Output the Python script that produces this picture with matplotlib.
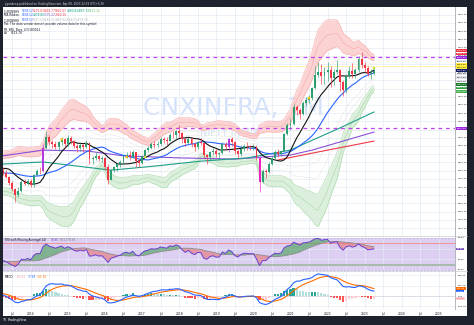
import numpy as np
import pandas as pd
import matplotlib
matplotlib.use("Agg")
import matplotlib.pyplot as plt
from matplotlib.patches import Rectangle
import matplotlib.transforms as mtransforms

# monthly bars, Apr 2013 .. Apr 2023 (month index 0 = Jan 2014)
first_month = -9
opens = [2600, 2540, 2450, 2300, 2150, 2000, 2100, 2330, 2280,
         2350, 2250, 2490, 2600, 2580, 3150, 3420, 3300, 3240, 3180, 3290, 3370,
         3250, 3400, 3330, 3200, 3150, 3230, 3180, 3280, 2880, 2900, 2960, 2880,
         2900, 2700, 2380, 2620, 2680, 2750, 2800, 2950, 2980, 2930, 3050, 2840,
         2780, 2960, 3100, 3150, 3250, 3230, 3260, 3380, 3350, 3330, 3480, 3460,
         3560, 3520, 3380, 3270, 3380, 3250, 3180, 3290, 3280, 2980, 2920, 3050,
         3080, 3000, 3020, 3250, 3180, 3380, 3300, 3080, 3000, 3130, 3200, 3190,
         3170, 3180, 2900, 2310, 2580, 2570, 2750, 2900, 3050, 3000, 3080, 3500,
         3700, 3740, 4150, 4080, 3990, 4260, 4310, 4380, 4620, 4930, 5000, 4900,
         5000, 5050, 4850, 5000, 5050, 4750, 4560, 4900, 5040, 4950, 5050, 5330,
         5180, 5100, 4950, 4980]
highs = [2680, 2620, 2480, 2340, 2180, 2190, 2360, 2400, 2400,
         2400, 2510, 2640, 2700, 3250, 3560, 3460, 3350, 3330, 3320, 3420, 3400,
         3480, 3450, 3350, 3260, 3280, 3260, 3350, 3300, 2950, 3060, 2990, 2960,
         2920, 2760, 2650, 2720, 2780, 2860, 2980, 3050, 3080, 3110, 3060, 2880,
         2990, 3130, 3200, 3290, 3310, 3330, 3420, 3430, 3420, 3520, 3560, 3590,
         3700, 3530, 3420, 3420, 3420, 3290, 3320, 3400, 3300, 3000, 3090, 3160,
         3120, 3060, 3290, 3300, 3400, 3420, 3320, 3110, 3220, 3260, 3290, 3230,
         3260, 3230, 2950, 2640, 2650, 2820, 2960, 3100, 3120, 3110, 3520, 3750,
         3890, 4230, 4200, 4120, 4300, 4400, 4450, 4650, 5150, 5250, 5200, 5120,
         5250, 5150, 5080, 5300, 5080, 4800, 4950, 5150, 5220, 5100, 5400, 5490,
         5250, 5150, 5080, 5080]
lows = [2500, 2420, 2250, 2100, 1840, 1950, 2070, 2250, 2260,
        2200, 2200, 2460, 2520, 2560, 3120, 3220, 3160, 3120, 3080, 3230, 3170,
        3200, 3240, 3150, 3050, 3080, 3050, 3150, 2750, 2750, 2860, 2830, 2820,
        2620, 2280, 2360, 2560, 2600, 2700, 2770, 2900, 2860, 2900, 2700, 2700,
        2760, 2930, 3050, 3120, 3150, 3180, 3230, 3280, 3230, 3310, 3400, 3400,
        3420, 3280, 3200, 3240, 3180, 3080, 3120, 3220, 2900, 2760, 2880, 2990,
        2940, 2880, 3000, 3130, 3050, 3200, 3010, 2900, 2950, 3080, 3100, 3100,
        3100, 2860, 2080, 2300, 2420, 2550, 2740, 2880, 2930, 2960, 3050, 3480,
        3600, 3700, 3950, 3850, 3960, 4180, 4240, 4330, 4600, 4880, 4700, 4720,
        4780, 4650, 4680, 4950, 4550, 4420, 4500, 4860, 4870, 4850, 5000, 5100,
        5000, 4900, 4830, 4930]
closes = [2540, 2450, 2300, 2150, 2000, 2100, 2330, 2280, 2350,
          2250, 2490, 2600, 2580, 3150, 3420, 3300, 3240, 3180, 3290, 3370, 3250,
          3400, 3330, 3200, 3150, 3230, 3180, 3280, 2880, 2900, 2960, 2880, 2900,
          2700, 2380, 2620, 2680, 2750, 2800, 2950, 2980, 2930, 3050, 2840, 2780,
          2960, 3100, 3150, 3250, 3230, 3260, 3380, 3350, 3330, 3480, 3460, 3560,
          3520, 3380, 3270, 3380, 3250, 3180, 3290, 3280, 2980, 2920, 3050, 3080,
          3000, 3020, 3250, 3180, 3380, 3300, 3080, 3000, 3130, 3200, 3190, 3170,
          3180, 2900, 2310, 2580, 2570, 2750, 2900, 3050, 3000, 3080, 3500, 3700,
          3740, 4150, 4080, 3990, 4260, 4310, 4380, 4620, 4930, 5000, 4900, 5000,
          5050, 4850, 5000, 5050, 4750, 4560, 4900, 5040, 4950, 5050, 5330, 5180,
          5100, 4950, 4980, 5040]
# closes left of the visible window (Sep 2011 .. Mar 2013), only used to warm up the indicators
history_closes = [2500, 2400, 2250, 2150, 2450, 2650, 2600, 2550, 2400, 2450,
                  2400, 2500, 2750, 2800, 2700, 2850, 2800, 2650, 2500]

# highlighted bars (MR bars) and their colours
special_months = [4, 64, 74]
special_colors = ['#b53be0', '#b53be0', '#f020c0']

# signal dots
dot_months = [10, 31, 37, 90, 111]
dot_prices = [3360, 2930, 2930, 4370, 5100]
dot_colors = ['#f7c21b', '#f7c21b', '#c9e234', '#f7c21b', '#c9e234']

# long moving averages
sma50_m = [-9, 4, 26, 40, 55, 70, 84, 91, 100, 111]
sma50_v = [2760, 2810, 2610, 2710, 2830, 2910, 3100, 3340, 3640, 4030]
sma100_m = [-9, 4, 18, 30, 48, 66, 84, 91, 101, 111]
sma100_v = [2960, 3100, 3080, 2960, 2910, 2880, 2980, 3100, 3320, 3540]
sma200_m = [80, 88, 96, 111]
sma200_v = [2860, 2980, 3100, 3320]

# horizontal levels
purple_levels = [5360, 3630]
yellow_level = 5150

# labels on the price scale
scale_labels = [(5530, '#f23645', '#ffffff', '5529.60'), (5444, '#f23645', '#ffffff', '5444.75'),
                (5360, '#9c27e0', '#ffffff', '5360.00'), (5273, '#e0e3eb', '#131722', '5273.00'),
                (5188, '#ffeb3b', '#131722', '5188.00'), (5110, '#ffeb3b', '#131722', '5110.75'),
                (5035, '#131f6b', '#ffffff', '5038.52'), (4956, '#e0e3eb', '#131722', '4956.00'),
                (4871, '#e0e3eb', '#131722', '4871.00'), (4785, '#e0e3eb', '#131722', '4785.75'),
                (4700, '#1b7a2b', '#ffffff', '4700.00'), (4615, '#2e9e3e', '#ffffff', '4615.75'),
                (4530, '#4caf50', '#ffffff', '4530.00'), (3630, '#9c27e0', '#ffffff', '3630.00')]
rsi_text = '58.86'
macd_texts = ['141.30', '77.68', '-63.62']

W, H = 474, 325
fig = plt.figure(figsize=(W / 100, H / 100), dpi=100)
fig.patch.set_facecolor('#1e222d')


def box(top, bottom, left=3, right=455):
    return [left / W, 1 - bottom / H, (right - left) / W, (bottom - top) / H]


fig.patches.append(Rectangle((3 / W, 1 - 316 / H), 464 / W, 309 / H, transform=fig.transFigure,
                             facecolor='white', edgecolor='none', zorder=-5))

ax = fig.add_axes(box(7, 236))
ax_rsi = fig.add_axes(box(236, 271), sharex=ax)
ax_macd = fig.add_axes(box(271, 309), sharex=ax)

months = np.arange(first_month, first_month + len(closes))
o = np.array(opens, float)
h = np.array(highs, float)
l = np.array(lows, float)
c = np.array(closes, float)
n_hist = len(history_closes)
s = pd.Series(history_closes + closes, dtype=float)

# indicators
sma10 = s.rolling(10).mean().values[n_hist:]
basis = s.rolling(20).mean().values[n_hist:]
dev = s.rolling(20).std(ddof=0).values[n_hist:]

delta = s.diff()
gain = delta.clip(lower=0).ewm(alpha=1 / 14, adjust=False).mean()
loss = (-delta.clip(upper=0)).ewm(alpha=1 / 14, adjust=False).mean()
rsi_full = 100 - 100 / (1 + gain / loss)
rsi = rsi_full.values[n_hist:]
rsi_ma = rsi_full.rolling(14, min_periods=1).mean().values[n_hist:]

macd_full = s.ewm(span=7, adjust=False).mean() - s.ewm(span=15, adjust=False).mean()
sig_full = macd_full.ewm(span=7, adjust=False).mean()
macd = macd_full.values[n_hist:]
sig = sig_full.values[n_hist:]
hist = (macd_full - sig_full).values[n_hist:]
hist_prev = (macd_full - sig_full).shift(1).values[n_hist:]

# ---- main pane ----
ax.text(0.511, 0.559, 'CNXINFRA, 1M', transform=ax.transAxes, ha='center', va='center',
        fontsize=18, color='#d3e2fa', zorder=0.5)
ax.text(0.502, 0.45, 'NIFTY INFRA', transform=ax.transAxes, ha='center', va='center',
        fontsize=7, color='#d3e2fa', zorder=0.5)

ax.fill_between(months, basis + 2 * dev, basis + 3 * dev, color='#fbd3d3', lw=0, zorder=1)
ax.fill_between(months, basis - 2 * dev, basis - 3 * dev, color='#dcefdc', lw=0, zorder=1)
for k in (2, 2.5, 3):
    ax.plot(months, basis + k * dev, color='#f7a9a9', lw=0.4, zorder=1.2)
    ax.plot(months, basis - k * dev, color='#a9d8a9', lw=0.4, zorder=1.2)
for k in (1, 1.5):
    ax.plot(months, basis + k * dev, color='#e3e3e3', lw=0.35, zorder=1.1)
    ax.plot(months, basis - k * dev, color='#e3e3e3', lw=0.35, zorder=1.1)

ax.plot(sma200_m, sma200_v, color='#f23645', lw=0.8, zorder=2)
ax.plot(sma100_m, sma100_v, color='#8a4fd8', lw=0.8, zorder=2)
ax.plot(sma50_m, sma50_v, color='#1f9e89', lw=0.8, zorder=2)
ax.plot(months, basis, color='#2962ff', lw=0.8, zorder=2.1)
ax.plot(months, sma10, color='#111111', lw=0.8, zorder=2.2)

colors = np.where(c >= o, '#2f9e70', '#f23645').astype(object)
for m, col in zip(special_months, special_colors):
    colors[m - first_month] = col
ax.vlines(months, l, h, colors=list(colors), lw=0.45, zorder=3)
ax.bar(months, np.maximum(np.abs(c - o), 8), bottom=np.minimum(o, c), width=0.62,
       color=list(colors), lw=0, zorder=3.1)
ax.scatter(dot_months, dot_prices, s=3.5, c=dot_colors, lw=0, zorder=3.5)

for lvl in purple_levels:
    ax.axhline(lvl, color='#c040f0', lw=0.9, ls=(0, (3, 3)), zorder=4)
ax.axhline(yellow_level, color='#fff3a0', lw=0.6, zorder=0.8)

ax.set_ylim(1005, 6590)
ax.set_xlim(-8.96, 137.2)
ax.set_yticks(np.arange(1200, 6600, 200))
ax.yaxis.tick_right()

for lbl_p, bg, fg, txt in scale_labels:
    ax.text(1.004, lbl_p, txt, transform=mtransforms.blended_transform_factory(ax.transAxes, ax.transData),
            ha='left', va='center', fontsize=1.7, color=fg, clip_on=False, zorder=6,
            bbox=dict(boxstyle='square,pad=0.35', fc=bg, ec='none'))
ax.text(1.015, 6600, 'INR', transform=mtransforms.blended_transform_factory(ax.transAxes, ax.transData),
        ha='left', va='center', fontsize=1.7, color='#131722', clip_on=False)

# ---- RSI pane ----
ax_rsi.axhspan(20, 80, color='#dccff1', lw=0, zorder=0.5)
ax_rsi.axhline(80, color='#b39ddb', lw=0.5, ls=(0, (3, 2)), zorder=1)
ax_rsi.axhline(20, color='#b39ddb', lw=0.5, ls=(0, (3, 2)), zorder=1)
ax_rsi.axhline(70, color='#f28b8b', lw=0.6, zorder=1)
ax_rsi.axhline(30, color='#9fb79f', lw=1.2, zorder=1)
ax_rsi.fill_between(months, rsi, rsi_ma, where=rsi >= rsi_ma, interpolate=True,
                    color='#5aa76a', alpha=0.7, lw=0, zorder=1.5)
ax_rsi.fill_between(months, rsi, rsi_ma, where=rsi < rsi_ma, interpolate=True,
                    color='#e57373', alpha=0.6, lw=0, zorder=1.5)
ax_rsi.plot(months, rsi_ma, color='#8d8d8d', lw=0.6, zorder=2)
ax_rsi.plot(months, rsi, color='#6a3fd0', lw=0.7, zorder=2.1)
ax_rsi.set_ylim(18.1, 83.75)
ax_rsi.set_yticks([20, 40, 60, 80])
ax_rsi.yaxis.tick_right()
ax_rsi.text(1.004, rsi[-1], rsi_text, transform=mtransforms.blended_transform_factory(ax_rsi.transAxes, ax_rsi.transData),
            ha='left', va='center', fontsize=1.7, color='white', clip_on=False,
            bbox=dict(boxstyle='square,pad=0.35', fc='#7e57c2', ec='none'))

# ---- MACD pane ----
hist_col = np.where(hist >= 0, np.where(hist >= hist_prev, '#26a69a', '#b2dfdb'),
                    np.where(hist <= hist_prev, '#ff5252', '#ffcdd2'))
ax_macd.bar(months, hist, width=0.7, color=list(hist_col), lw=0, zorder=1)
ax_macd.axhline(0, color='#b2b5be', lw=0.4, ls=(0, (2, 2)), zorder=0.8)
ax_macd.plot(months, sig, color='#ff6d00', lw=0.8, zorder=2)
ax_macd.plot(months, macd, color='#2962ff', lw=0.8, zorder=2.1)
ax_macd.set_ylim(-252, 485)
ax_macd.set_yticks([-200, 0, 200, 400])
ax_macd.yaxis.tick_right()
for val, bg, txt in zip((sig[-1], macd[-1], hist[-1]), ('#ff6d00', '#2962ff', '#ffcdd2'), macd_texts):
    ax_macd.text(1.004, val, txt, transform=mtransforms.blended_transform_factory(ax_macd.transAxes, ax_macd.transData),
                 ha='left', va='center', fontsize=1.7, color='white' if bg != '#ffcdd2' else '#f23645',
                 clip_on=False, bbox=dict(boxstyle='square,pad=0.35', fc=bg, ec='none'))

# time axis
tick_m = np.arange(-6, 138, 6)
tick_lbl = ['Jul' if m % 12 else str(2014 + m // 12) for m in tick_m]
ax_macd.set_xticks(tick_m)
ax_macd.set_xticklabels(tick_lbl)

for a in (ax, ax_rsi, ax_macd):
    a.set_facecolor('white')
    a.grid(True, color='#e4ebf6', lw=0.5, zorder=0)
    a.set_axisbelow(True)
    for sp in ('top', 'left', 'bottom'):
        a.spines[sp].set_visible(False)
    a.spines['right'].set_color('#9598a1')
    a.spines['right'].set_linewidth(0.5)
    a.tick_params(axis='y', length=0, pad=2, labelsize=1.7, labelcolor='#131722')
    a.tick_params(axis='x', length=0, pad=2, labelsize=2.2, labelcolor='#131722')
    a.yaxis.set_major_formatter(matplotlib.ticker.FormatStrFormatter('%.2f'))
ax.tick_params(axis='x', labelbottom=False)
ax_rsi.tick_params(axis='x', labelbottom=False)
for y in (236, 271):
    fig.add_artist(plt.Line2D([3 / W, 467 / W], [1 - y / H] * 2, color='#c9ccd3', lw=0.5))

# legends


def legend(y, items, size=2.1):
    for txt, col, x in items:
        fig.text(x / W, 1 - y / H, txt, color=col, fontsize=size, va='center', ha='left')


legend(11, [('[_LRGN9H9', '#131722', 4), ('5038.52', '#2962ff', 22), ('5276.81', '#f23645', 33),
            ('5469.77', '#f23645', 44), ('5050.87', '#f23645', 55), ('4880.82', '#089981', 67),
            ('4867.72', '#089981', 78), ('5121.32', '#66bb6a', 89)])
legend(15.5, [('MA Ribbon', '#131722', 4), ('5038.52', '#2962ff', 22), ('4879.80', '#089981', 33),
              ('3575.22', '#7e57c2', 44), ('3340.16', '#f23645', 55)])
legend(20, [('[_LRGN9H9', '#131722', 4), ('5038.52', '#2962ff', 22), ('5357.53', '#b2b5be', 33),
            ('5289.01', '#b2b5be', 44), ('4883.92', '#b2b5be', 55), ('4666.05', '#b2b5be', 66),
            ('4776.75', '#b2b5be', 77)])
legend(24.5, [("Vol: The data vendor doesn't provide volume data for this symbol.", '#131722', 4)])
legend(29, [('MR_BRL_Bars_LC0180022', '#131722', 4)])
legend(33.5, [('AS', '#131722', 4), ('5153.78', '#131722', 11)])
legend(240, [('RSI with Moving Average(14)', '#131722', 5), ('58.86', '#7e57c2', 51),
             ('63.21', '#787b86', 60), ('63.87', '#787b86', 68)])
legend(277, [('MACD', '#131722', 5), ('-63.62', '#f7a1a1', 17), ('77.68', '#2962ff', 28),
             ('141.30', '#ff6d00', 37)])
legend(3.5, [('jvgandeep published on TradingView.com, Apr 08, 2023 22:39 UTC+5:30', '#d1d4dc', 4)], size=2.0)
legend(320, [('TV', '#ffffff', 3), ('TradingView', '#ffffff', 8)], size=2.3)

fig.savefig('out.png', dpi=100, facecolor=fig.get_facecolor())
